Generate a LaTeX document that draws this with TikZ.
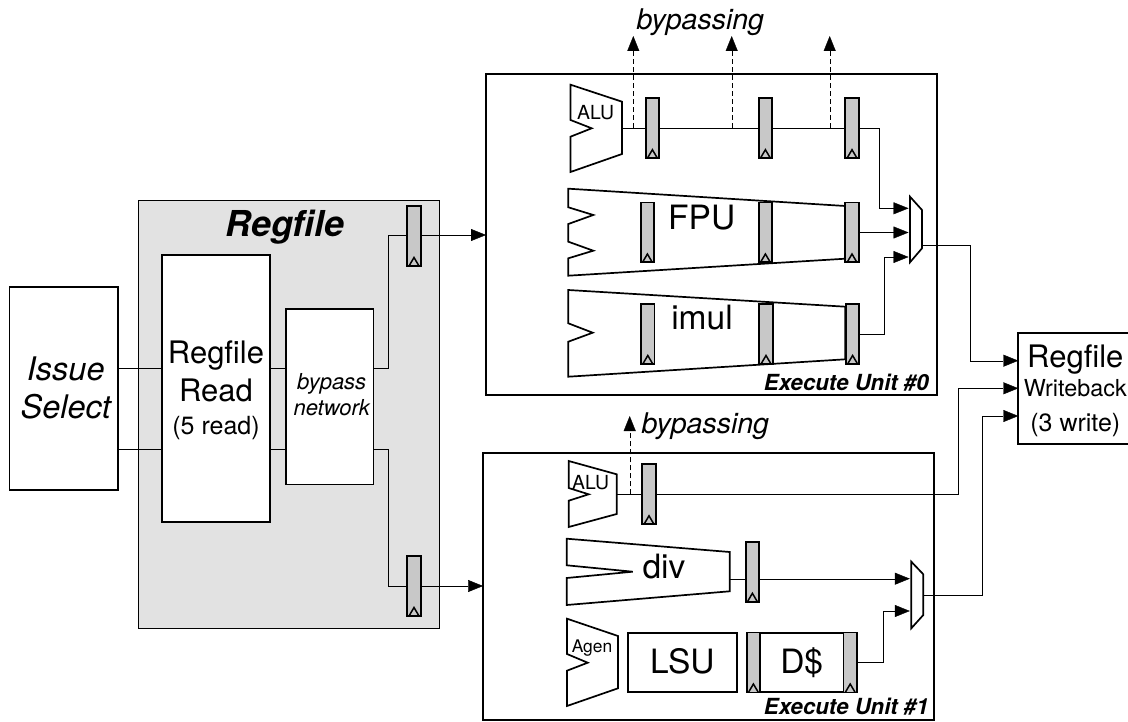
\documentclass[tikz,border=0pt]{standalone}
\usepackage{fontspec}
\setmainfont{TeX Gyre Heros}
\usepackage{tikz}
\usetikzlibrary{arrows.meta,backgrounds}
\definecolor{fondgris}{HTML}{E2E2E2}
\definecolor{flopgris}{HTML}{C8C8C8}

\begin{document}
\begin{tikzpicture}[x=1pt,y=-1pt,line width=1.7pt,
    bloc/.style={rectangle, draw=black, fill=white, inner sep=0pt, outer sep=0pt, align=center},
    flop/.style={rectangle, draw=black, fill=flopgris, inner sep=0pt, outer sep=0pt,
        minimum width=13.4pt, minimum height=60pt,
        path picture={\draw[line width=1.5pt] (path picture bounding box.south) ++(-5pt,0pt) -- ++(5pt,8.5pt) -- ++(5pt,-8.5pt);
            \draw[line width=2pt] (path picture bounding box.south west) -- (path picture bounding box.south east);}},
    txt/.style={inner sep=0pt, anchor=base},
    grand/.style={font=\fontsize{31}{38}\selectfont},
    gros/.style={font=\fontsize{33.5}{38}\selectfont},
    moyen/.style={font=\fontsize{19.4}{24}\selectfont},
    titre/.style={txt, font=\fontsize{22.2}{26}\selectfont\bfseries\itshape},
    passe/.style={txt, font=\fontsize{28.5}{34}\selectfont\itshape},
    fil/.style={draw=black},
    fleche/.style={fil, -{Triangle[length=15pt,width=12pt]}},
    tir/.style={draw=black, dash pattern=on 5pt off 3pt, -{Triangle[length=15pt,width=12pt]}}]

	\useasboundingbox (0,0) rectangle (1128,722);

	\begin{scope}[on background layer]
	  \node [rectangle, draw=black, fill=fondgris, minimum width=301pt, minimum height=427pt, inner sep=0pt, outer sep=0pt] (regbox) at (288.8,414.2) {};
	\end{scope}
	\node [txt, font=\fontsize{35.7}{40}\selectfont\bfseries\itshape] (regtitle) at (285,236.7) {Regfile};

	\node [bloc, minimum width=108.7pt, minimum height=203pt] (issue) at (63.7,388.3) {};
	\node [inner sep=0pt, align=center, font=\fontsize{32.5}{38}\selectfont\itshape] (issuetxt) at (65.8,388) {Issue\\Select};
	\node [bloc, minimum width=108pt, minimum height=267pt] (read) at (216,388.5) {};
	\node [grand, inner sep=0pt, align=center] (readtxt) at (216,390) {Regfile\\Read\\[-5pt]\fontsize{25}{33}\selectfont(5 read)};
	\node [bloc, minimum width=87.5pt, minimum height=175.3pt] (bypass) at (329.8,396.7) {};
	\node [inner sep=0pt, align=center, font=\fontsize{22}{26}\selectfont\itshape] (bypasstxt) at (331.7,394.3) {bypass\\network};

	\node [rectangle, draw=black, minimum width=451pt, minimum height=321pt, inner sep=0pt, outer sep=0pt] (unita) at (711.5,234.5) {};
	\node [rectangle, draw=black, minimum width=450.7pt, minimum height=267.3pt, inner sep=0pt, outer sep=0pt] (unitb) at (708.4,586.4) {};
	\node [titre, anchor=base east] (unitatxt) at (929.5,390.7) {Execute Unit \#0};
	\node [titre, anchor=base east] (unitbtxt) at (929.5,714.3) {Execute Unit \#1};

	\node [bloc, minimum width=114pt, minimum height=111.3pt] (wb) at (1075.3,388.4) {};
	\node [inner sep=0pt, align=center, grand] (wbtxt) at (1075.3,391) {Regfile\\[-9pt]\fontsize{23.4}{29}\selectfont Writeback\\[-3.5pt]\fontsize{25}{33}\selectfont(3 write)};

	\draw (570.5,84.7) -- (622,101.7) -- (622,154) -- (570.5,172) -- (570.5,136.7) -- (591.7,128.3) -- (570.5,120) -- cycle;
	\draw (568.3,188.7) -- (845.3,206) -- (845.3,258.7) -- (568.3,275.7) -- (568.3,258.3) -- (593.3,250.7) -- (568.3,241.7) -- (568.3,224) -- (593.3,215) -- (568.3,207.3) -- cycle;
	\draw (568.3,290) -- (845.3,306.7) -- (845.3,359.3) -- (568.3,376.7) -- (568.3,341.7) -- (592.7,332.7) -- (568.3,323.3) -- cycle;
	\draw (910,196.7) -- (922,210) -- (922,248.3) -- (910,262.3) -- cycle;
	\draw (568.7,461) -- (616.7,474.3) -- (616.7,514) -- (568.7,527) -- (568.7,500.7) -- (588.7,494.3) -- (568.7,488) -- cycle;
	\draw (566.7,538.7) -- (729.7,552) -- (729.7,591.3) -- (566.7,605) -- (566.7,578) -- (632.7,571.7) -- (566.7,565.3) -- cycle;
	\draw (567,618.7) -- (618,636) -- (618,688.3) -- (567,706) -- (567,670.7) -- (587.7,662.7) -- (567,654) -- cycle;
	\draw (911.3,561.7) -- (923.3,574.3) -- (923.3,615) -- (911.3,628.3) -- cycle;

	\node [txt, moyen] (alua) at (595.7,119.3) {ALU};
	\node [txt, moyen] (alub) at (590.7,489) {ALU};
	\node [txt, font=\fontsize{17.4}{20}\selectfont] (agen) at (592,652.3) {Agen};
	\node [txt, gros] (fpu) at (701.7,230) {FPU};
	\node [txt, gros] (imul) at (702,330) {imul};
	\node [txt, gros] (div) at (664,578.3) {div};

	\node [bloc, gros, text height=25pt, text depth=4pt, minimum width=108.7pt, minimum height=59pt] (lsu) at (682.3,662.8) {LSU};
	\node [bloc, gros, text height=25pt, text depth=4pt, minimum width=110pt, minimum height=59.6pt] (dc) at (801.7,662.5) {D\$};

	\node [flop] (pr1) at (414,236) {};
	\node [flop] (pr2) at (414,586) {};
	\node [flop] (pa1) at (652.4,128.2) {};
	\node [flop] (pa2) at (765.4,128.2) {};
	\node [flop] (pa3) at (852,128.2) {};
	\node [flop] (pf1) at (647.4,232.5) {};
	\node [flop] (pf2) at (765.4,232.5) {};
	\node [flop] (pf3) at (852,232.5) {};
	\node [flop] (pi1) at (647.8,334) {};
	\node [flop] (pi2) at (766,334) {};
	\node [flop] (pi3) at (852.6,334) {};
	\node [flop] (pb1) at (649,494.3) {};
	\node [flop] (pd1) at (752.4,571.8) {};
	\node [flop] (pc1) at (753.4,662.5) {};
	\node [flop] (pc2) at (850.2,662.5) {};

	\coordinate (alua-s) at (622,128);
	\coordinate (alub-s) at (616.7,494.3);
	\coordinate (div-s) at (729.7,578.7);
	\coordinate (muxa-a) at (908.5,208.3);
	\coordinate (muxa-b) at (908.5,232.5);
	\coordinate (muxa-c) at (908.5,257);
	\coordinate (muxa-s) at (922,245);
	\coordinate (muxb-a) at (909.8,578.7);
	\coordinate (muxb-b) at (909.8,611);
	\coordinate (muxb-s) at (923.3,595);
	\coordinate (ka) at (879,208.3);
	\coordinate (kb) at (884,257);
	\coordinate (kc) at (970,360.7);
	\coordinate (kd) at (958.3,388.3);
	\coordinate (ke) at (981.7,416);
	\coordinate (kf) at (883.3,611);
	\coordinate (kg) at (388.3,235);
	\coordinate (kh) at (388.3,586);
	\coordinate (ta) at (633.3,36);
	\coordinate (tb) at (731.7,36);
	\coordinate (tc) at (829.7,36);
	\coordinate (td) at (629.7,416);

	\begin{scope}[on background layer]
	  \draw[fil] (issue.east |- 0,368.3) -- (read.west |- 0,368.3);
	  \draw[fil] (issue.east |- 0,449.3) -- (read.west |- 0,449.3);
	  \draw[fil] (read.east |- 0,368.3) -- (bypass.west |- 0,368.3);
	  \draw[fil] (read.east |- 0,449.3) -- (bypass.west |- 0,449.3);
	  \draw[fleche] (bypass.east |- 0,368.3) -| (kg) -- (unita.west |- kg);
	  \draw[fleche] (bypass.east |- 0,449.3) -| (kh) -- (unitb.west |- kh);
	  \draw[fleche] (alua-s) -| (ka) -- (muxa-a);
	  \draw[fleche] (pf3.east) -- (muxa-b);
	  \draw[fleche] (pi3.east) -| (kb) -- (muxa-c);
	  \draw[fleche] (muxa-s) -| (kc) -- (wb.west |- kc);
	  \draw[fleche] (alub-s) -| (kd) -- (wb.west |- kd);
	  \draw[fleche] (div-s) -- (muxb-a);
	  \draw[fleche] (pc2.east) -| (kf) -- (muxb-b);
	  \draw[fleche] (muxb-s) -| (ke) -- (wb.west |- ke);
	  \draw[tir] (alua-s -| ta) -- (ta);
	  \draw[tir] (alua-s -| tb) -- (tb);
	  \draw[tir] (alua-s -| tc) -- (tc);
	  \draw[tir] (alub-s -| td) -- (td);
	\end{scope}

	\node [passe] (bpa) at (700.3,29.3) {bypassing};
	\node [passe] (bpb) at (705.3,433.3) {bypassing};

\end{tikzpicture}
\end{document}
